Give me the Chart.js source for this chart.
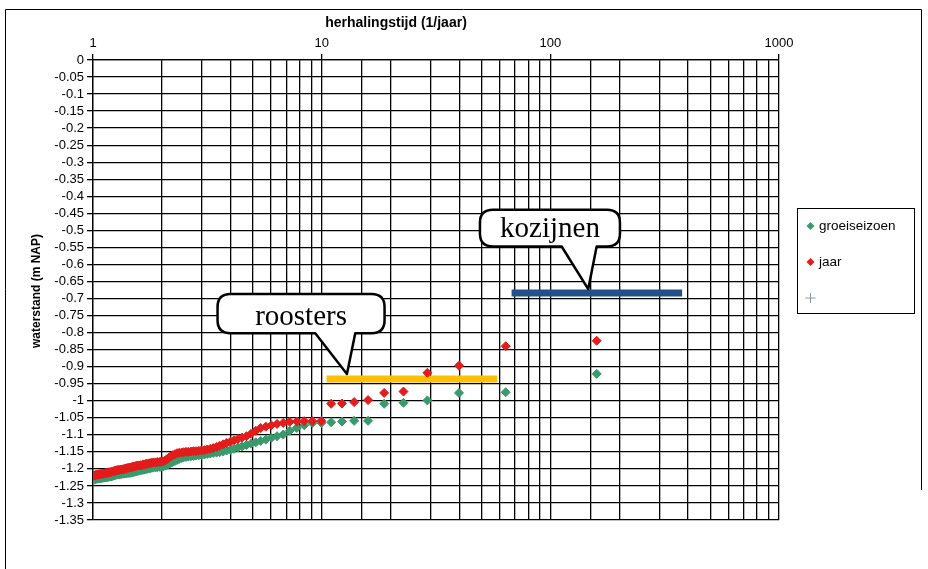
<!DOCTYPE html>
<html><head><meta charset="utf-8">
<script src="https://cdn.jsdelivr.net/npm/chart.js@4/dist/chart.umd.min.js"></script>
<style>html,body{margin:0;padding:0;background:#fff;}canvas{display:block;}</style>
</head><body>
<canvas id="c" width="928" height="569"></canvas>
<script>
// ---- data ----
const returnPeriods = [159.5,63.8,39.87,29.0,22.79,18.76,15.95,13.87,12.27,11.0,
 9.97,9.11,8.39,7.78,7.25,6.79,6.38,6.02,5.70,5.41,
 5.15,4.91,4.69,4.49,4.31,4.14,3.99,3.84,3.71,3.58,
 3.47,3.36,3.26,3.16,3.07,2.98,2.90,2.82,2.75,2.68,
 2.61,2.55,2.49,2.44,2.38,2.33,2.28,2.23,2.18,2.14,
 2.10,2.06,2.02,1.98,1.95,1.91,1.88,1.84,1.81,1.78,
 1.75,1.72,1.70,1.67,1.65,1.62,1.60,1.57,1.55,1.53,
 1.51,1.49,1.47,1.45,1.424,1.405,1.387,1.369,1.352,1.335,
 1.318,1.302,1.286,1.271,1.256,1.241,1.227,1.213,1.199,1.186,
 1.173,1.160,1.148,1.136,1.124,1.112,1.100,1.089,1.078,1.067,
 1.056,1.046,1.036,1.026,1.016,1.006];
const groeiseizoen = [-0.921,-0.975,-0.977,-0.999,-1.006,-1.009,-1.059,-1.059,-1.061,-1.063,
 -1.065,-1.066,-1.072,-1.080,-1.088,-1.099,-1.104,-1.109,-1.114,-1.118,
 -1.122,-1.126,-1.130,-1.134,-1.137,-1.141,-1.144,-1.146,-1.149,-1.151,
 -1.152,-1.153,-1.155,-1.156,-1.158,-1.159,-1.160,-1.161,-1.162,-1.163,
 -1.164,-1.165,-1.166,-1.168,-1.171,-1.174,-1.177,-1.180,-1.183,-1.186,
 -1.189,-1.191,-1.193,-1.194,-1.194,-1.195,-1.195,-1.196,-1.197,-1.198,
 -1.199,-1.200,-1.201,-1.202,-1.203,-1.204,-1.205,-1.206,-1.207,-1.208,
 -1.209,-1.210,-1.211,-1.212,-1.212,-1.213,-1.213,-1.214,-1.214,-1.215,
 -1.215,-1.216,-1.216,-1.217,-1.218,-1.219,-1.220,-1.221,-1.222,-1.222,
 -1.223,-1.224,-1.224,-1.225,-1.225,-1.226,-1.226,-1.227,-1.227,-1.228,
 -1.228,-1.229,-1.229,-1.230,-1.231,-1.232];
const jaar = [-0.824,-0.840,-0.897,-0.918,-0.973,-0.977,-0.998,-1.004,-1.008,-1.009,
 -1.059,-1.060,-1.060,-1.061,-1.062,-1.065,-1.068,-1.072,-1.076,-1.080,
 -1.088,-1.097,-1.104,-1.108,-1.112,-1.116,-1.120,-1.124,-1.128,-1.132,
 -1.136,-1.139,-1.141,-1.143,-1.145,-1.146,-1.147,-1.148,-1.148,-1.149,
 -1.150,-1.150,-1.151,-1.152,-1.153,-1.154,-1.157,-1.160,-1.164,-1.168,
 -1.172,-1.176,-1.178,-1.179,-1.180,-1.180,-1.181,-1.181,-1.182,-1.183,
 -1.184,-1.185,-1.186,-1.187,-1.188,-1.189,-1.190,-1.190,-1.191,-1.192,
 -1.193,-1.194,-1.195,-1.196,-1.197,-1.198,-1.199,-1.200,-1.201,-1.202,
 -1.202,-1.203,-1.203,-1.204,-1.205,-1.206,-1.207,-1.208,-1.209,-1.210,
 -1.210,-1.211,-1.212,-1.212,-1.213,-1.214,-1.214,-1.215,-1.215,-1.216,
 -1.216,-1.217,-1.217,-1.218,-1.219,-1.220];
const seriesNames = ['groeiseizoen', 'jaar', ''];
const roostersPeriods = [10.5, 58.6];
const roostersLevel = [-0.936, -0.936];
const kozijnenPeriods = [67.7, 377];
const kozijnenLevel = [-0.684, -0.684];
const calloutTexts = ['roosters', 'kozijnen'];
const calloutAnchorPeriods = [12.9, 146.5];
const xTickLabels = [1, 10, 100, 1000];
const yTickValues = [0,-0.05,-0.1,-0.15,-0.2,-0.25,-0.3,-0.35,-0.4,-0.45,-0.5,-0.55,-0.6,-0.65,
 -0.7,-0.75,-0.8,-0.85,-0.9,-0.95,-1,-1.05,-1.1,-1.15,-1.2,-1.25,-1.3,-1.35];
const xTitle = 'herhalingstijd (1/jaar)';
const yTitle = 'waterstand (m NAP)';

// ---- styles ----
const GREEN = '#3a9a6c', RED = '#e41c1c', CROSS = '#8798ae';
const ORANGE = '#ffc000', BLUE = '#234f8a';
const FAMILY = '"Liberation Sans", Arial, sans-serif';
const GRIDW = 1.3;

const pts = (xs, ys) => xs.map((x, i) => ({ x: x, y: ys[i] }));

const calloutGeom = [
  { left: -129.4, right: 37.6, top: -80, bottom: -40.7, baseL: -31.7, baseR: 8.3, tipDy: -5, textDy: -8.3, r: 13 },
  { left: -108.3, right: 31.7, top: -79.3, bottom: -42.6, baseL: -26.6, baseR: 8.4, tipDy: -4, textDy: -9.4, r: 13 }
];
const calloutLevels = [roostersLevel[0], kozijnenLevel[0]];

const decor = {
  id: 'decor',
  beforeDraw(chart) {
    const ctx = chart.ctx;
    ctx.save();
    ctx.fillStyle = '#fff';
    ctx.fillRect(0, 0, chart.width, chart.height);
    ctx.restore();
  },
  afterDatasetsDraw(chart) {
    const ctx = chart.ctx;
    const xs = chart.scales.x, ys = chart.scales.y;
    ctx.save();
    calloutTexts.forEach((t, i) => {
      const g = calloutGeom[i];
      const tx = xs.getPixelForValue(calloutAnchorPeriods[i]);
      const ty = ys.getPixelForValue(calloutLevels[i]) + g.tipDy;
      const L = tx + g.left, R = tx + g.right, T = ty + g.top, B = ty + g.bottom, r = g.r;
      ctx.beginPath();
      ctx.moveTo(L + r, T);
      ctx.lineTo(R - r, T);
      ctx.quadraticCurveTo(R, T, R, T + r);
      ctx.lineTo(R, B - r);
      ctx.quadraticCurveTo(R, B, R - r, B);
      ctx.lineTo(tx + g.baseR, B);
      ctx.lineTo(tx, ty);
      ctx.lineTo(tx + g.baseL, B);
      ctx.lineTo(L + r, B);
      ctx.quadraticCurveTo(L, B, L, B - r);
      ctx.lineTo(L, T + r);
      ctx.quadraticCurveTo(L, T, L + r, T);
      ctx.closePath();
      ctx.fillStyle = '#fff';
      ctx.fill();
      ctx.lineWidth = 2.5;
      ctx.strokeStyle = '#000';
      ctx.lineJoin = 'round';
      ctx.stroke();
      ctx.fillStyle = '#000';
      ctx.font = '29px "Liberation Serif", "Times New Roman", serif';
      ctx.textAlign = 'center';
      ctx.textBaseline = 'alphabetic';
      ctx.fillText(t, (L + R) / 2, B + g.textDy);
    });
    ctx.restore();
  },
  afterDraw(chart) {
    const ctx = chart.ctx;
    ctx.save();
    ctx.strokeStyle = '#000';
    ctx.lineWidth = 1;
    ctx.beginPath();
    ctx.moveTo(5.5, 569); ctx.lineTo(5.5, 9.5); ctx.lineTo(921.5, 9.5); ctx.lineTo(921.5, 490);
    ctx.stroke();
    ctx.fillStyle = '#000';
    ctx.font = 'bold 14px ' + FAMILY;
    ctx.textAlign = 'center';
    ctx.textBaseline = 'middle';
    ctx.fillText(xTitle, 396, 23);
    ctx.translate(37, 291);
    ctx.rotate(-Math.PI / 2);
    ctx.font = 'bold 12px ' + FAMILY;
    ctx.fillText(yTitle, 0, 0);
    ctx.restore();
    // legend
    ctx.save();
    ctx.strokeStyle = '#000';
    ctx.lineWidth = 1;
    ctx.strokeRect(797.5, 208.5, 117, 105);
    const items = chart.data.datasets.filter(d => d.inLegend);
    items.forEach((d, i) => {
      const y = 226 + i * 36;
      ctx.fillStyle = d.backgroundColor; ctx.strokeStyle = d.borderColor;
      ctx.beginPath();
      if (d.pointStyle === 'cross') {
        ctx.lineWidth = 1;
        ctx.moveTo(805.5, y); ctx.lineTo(815.5, y);
        ctx.moveTo(810.5, y - 5); ctx.lineTo(810.5, y + 5);
        ctx.stroke();
      } else {
        ctx.moveTo(810.5, y - 4); ctx.lineTo(814.5, y); ctx.lineTo(810.5, y + 4); ctx.lineTo(806.5, y);
        ctx.closePath(); ctx.fill();
      }
      ctx.fillStyle = '#000';
      ctx.font = '13.5px ' + FAMILY;
      ctx.textAlign = 'left';
      ctx.textBaseline = 'middle';
      ctx.fillText(d.label, 819, y);
    });
    ctx.restore();
  }
};

new Chart(document.getElementById('c'), {
  type: 'scatter',
  data: {
    datasets: [
      { label: seriesNames[0], data: pts(returnPeriods, groeiseizoen), pointStyle: 'rectRot', pointRadius: 4.5,
        backgroundColor: GREEN, borderColor: GREEN, pointBorderWidth: 1, order: 3, inLegend: true },
      { label: seriesNames[1], data: pts(returnPeriods, jaar), pointStyle: 'rectRot', pointRadius: 4.5,
        backgroundColor: RED, borderColor: RED, pointBorderWidth: 1, order: 2, inLegend: true },
      { label: seriesNames[2], data: [], pointStyle: 'cross', pointRadius: 5,
        backgroundColor: CROSS, borderColor: CROSS, order: 6, inLegend: true },
      { label: 'roosters', data: pts(roostersPeriods, roostersLevel), showLine: true, borderColor: ORANGE,
        borderWidth: 7, pointRadius: 0, borderCapStyle: 'butt', order: 5 },
      { label: 'kozijnen', data: pts(kozijnenPeriods, kozijnenLevel), showLine: true, borderColor: BLUE,
        borderWidth: 7, pointRadius: 0, borderCapStyle: 'butt', order: 5 }
    ]
  },
  options: {
    responsive: false,
    animation: false,
    devicePixelRatio: 1,
    layout: { padding: { left: 0, top: 0, right: 149, bottom: 49 } },
    plugins: { legend: { display: false }, tooltip: { enabled: false } },
    scales: {
      x: {
        type: 'logarithmic', position: 'top', min: 1, max: 1000,
        afterFit(s) { s.height = 60; },
        grid: { color: '#000', lineWidth: GRIDW, tickLength: 6,
          tickColor: c => (c.tick && xTickLabels.includes(c.tick.value)) ? '#000' : 'rgba(0,0,0,0)' },
        border: { color: '#000', width: GRIDW },
        ticks: { autoSkip: false, maxRotation: 0, color: '#000', font: { family: FAMILY, size: 13 },
          padding: 3, callback: v => xTickLabels.includes(v) ? String(v) : '' }
      },
      y: {
        min: -1.35, max: 0,
        afterFit(s) { s.width = 93; },
        afterBuildTicks(s) { s.ticks = yTickValues.map(v => ({ value: v })); },
        grid: { color: '#000', lineWidth: GRIDW, tickLength: 6, tickColor: '#000' },
        border: { color: '#000', width: GRIDW },
        ticks: { autoSkip: false, color: '#000', font: { family: FAMILY, size: 13 },
          padding: 3, callback: v => String(Number(v.toFixed(2))) }
      }
    }
  },
  plugins: [decor]
});
</script>
</body></html>
